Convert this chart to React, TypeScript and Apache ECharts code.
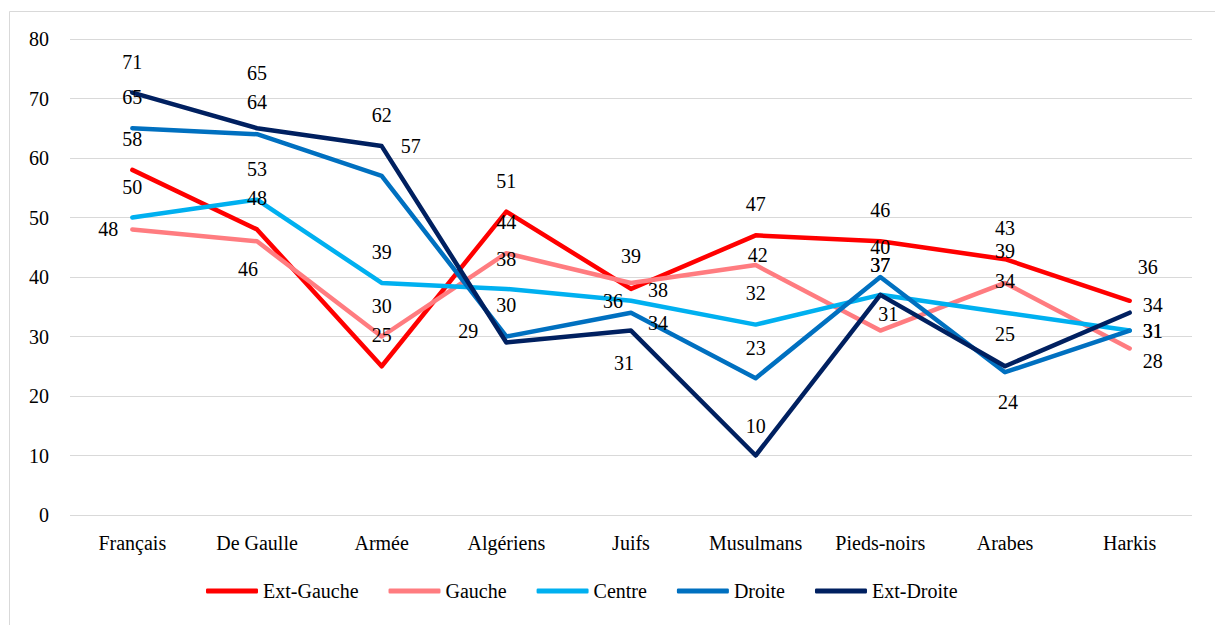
import React, { useEffect, useRef } from "react";
import * as echarts from "echarts";

const categories = ["Français", "De Gaulle", "Armée", "Algériens", "Juifs", "Musulmans", "Pieds-noirs", "Arabes", "Harkis"];
const seriesNames = ["Ext-Gauche", "Gauche", "Centre", "Droite", "Ext-Droite"];
const extGauche = [58, 48, 25, 51, 38, 47, 46, 43, 36];
const gauche = [48, 46, 30, 44, 39, 42, 31, 39, 28];
const centre = [50, 53, 39, 38, 36, 32, 37, 34, 31];
const droite = [65, 64, 57, 30, 34, 23, 40, 24, 31];
const extDroite = [71, 65, 62, 29, 31, 10, 37, 25, 34];
const yTicks = [0, 10, 20, 30, 40, 50, 60, 70, 80];

const seriesValues = [extGauche, gauche, centre, droite, extDroite];
const colors = ["#FF0000", "#FF7C80", "#00B0F0", "#0070C0", "#002060"];

// label offsets [dx, dy] relative to each point (layout only)
const labelOffsets: number[][][] = [
  [[0, -31], [0, -31], [0, -31], [0, -31], [27, 1], [0, -31], [0, -31], [0, -31], [18, -34]],
  [[-24, 0], [-9, 28], [0, -31], [0, -31], [0, -27], [2, -10], [8, -17], [0, -32], [23, 13]],
  [[0, -31], [0, -31], [0, -31], [0, -30], [-18, 0], [0, -32], [0, -30], [0, -32], [23, 0]],
  [[0, -31], [0, -32], [29, -30], [0, -32], [27, 10], [0, -30], [0, -30], [3, 30], [23, 0]],
  [[0, -31], [0, -55], [0, -31], [-38, -11], [-7, 32], [0, -30], [0, -30], [0, -32], [23, -8]],
];

const FONT = "Liberation Serif";
const CSS = `svg text { font-family: "Liberation Serif", serif !important; }`;

export default function App() {
  const ref = useRef<HTMLDivElement>(null);
  useEffect(() => {
    if (!ref.current) return;
    const chart = echarts.init(ref.current, undefined, { renderer: "svg" });
    chart.setOption({
      animation: false,
      textStyle: { fontFamily: FONT },
      graphic: [
        {
          type: "rect",
          shape: { x: 9.5, y: 11.5, width: 1400, height: 800 },
          style: { fill: "none", stroke: "#D9D9D9", lineWidth: 1 },
          silent: true,
        },
      ],
      grid: { left: 70, right: 23, top: 39, bottom: 110 },
      legend: {
        bottom: 19,
        left: 201,
        icon: "roundRect",
        itemWidth: 52,
        itemHeight: 5,
        itemGap: 30,
        data: seriesNames,
        textStyle: { fontFamily: FONT, fontSize: 20, color: "#000" },
      },
      xAxis: {
        type: "category",
        data: categories,
        boundaryGap: true,
        axisLine: { show: false },
        axisTick: { show: false },
        axisLabel: { fontFamily: FONT, fontSize: 20, color: "#000", margin: 18 },
      },
      yAxis: {
        type: "value",
        min: yTicks[0],
        max: yTicks[yTicks.length - 1],
        interval: 10,
        axisLine: { show: false },
        axisTick: { show: false },
        splitLine: { lineStyle: { color: "#D9D9D9", width: 1 } },
        axisLabel: { fontFamily: FONT, fontSize: 20, color: "#000", margin: 21 },
      },
      series: seriesNames.map((name, si) => ({
        name,
        type: "line",
        data: seriesValues[si].map((v, i) => ({
          value: v,
          label: { offset: labelOffsets[si][i] },
        })),
        symbol: "circle",
        symbolSize: 2,
        showSymbol: true,
        itemStyle: { color: colors[si] },
        lineStyle: { color: colors[si], width: 4.5, cap: "round", join: "round" },
        label: {
          show: true,
          position: "inside",
          fontFamily: FONT,
          fontSize: 20,
          color: "#000",
        },
      })),
    });
    return () => chart.dispose();
  }, []);
  return (
    <div style={{ position: "absolute", left: 0, top: 0, width: 1215, height: 625 }}>
      <style>{CSS}</style>
      <div ref={ref} style={{ position: "absolute", left: 0, top: 0, width: 1215, height: 625 }} />
    </div>
  );
}
